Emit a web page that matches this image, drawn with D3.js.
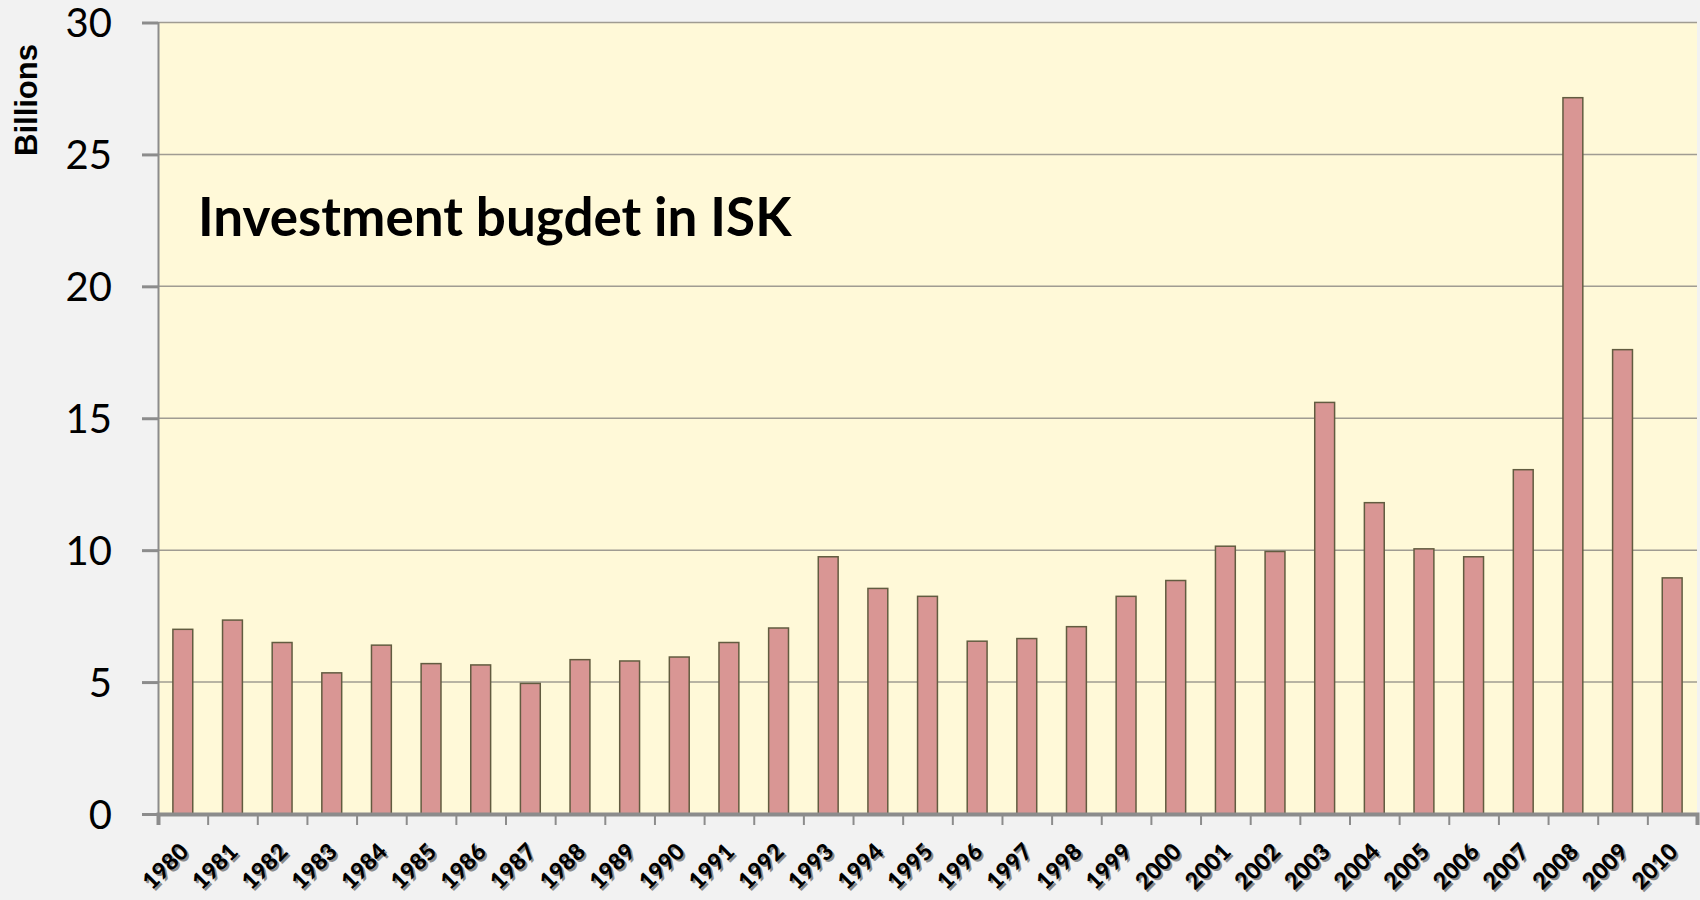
<!DOCTYPE html>
<html>
<head>
<meta charset="utf-8">
<script src="https://cdn.jsdelivr.net/npm/d3@7"></script>
<style>
    html, body { margin: 0; padding: 0; background: #f2f2f2; }
    .chart_box { width: 1700px; height: 900px; }
</style>
</head>
<body>
<div class="chart_box"></div>
<script>
//<data>-------------------------------------//
var years = ["1980", "1981", "1982", "1983", "1984", "1985", "1986", "1987", "1988", "1989",
    "1990", "1991", "1992", "1993", "1994", "1995", "1996", "1997", "1998", "1999",
    "2000", "2001", "2002", "2003", "2004", "2005", "2006", "2007", "2008", "2009", "2010"];
var budget = [7.0, 7.35, 6.5, 5.35, 6.4, 5.7, 5.65, 4.95, 5.85, 5.8,
    5.95, 6.5, 7.05, 9.75, 8.55, 8.25, 6.55, 6.65, 7.1, 8.25,
    8.85, 10.15, 9.95, 15.6, 11.8, 10.05, 9.75, 13.05, 27.15, 17.6, 8.95];
var yTicks = [0, 5, 10, 15, 20, 25, 30];
var titleText = "Investment bugdet in ISK";
var unitText = "Billions";

//<setMargin>-------------------------------//
var getW = 1700, getH = 900;
var margin = { top: 22.5, right: 3, bottom: 86, left: 158 },
    width = getW - margin.left - margin.right,
    height = getH - margin.top - margin.bottom;

var svg = d3.select(".chart_box").append("svg")
    .attr("width", getW).attr("height", getH);

svg.append("rect").attr("width", getW).attr("height", getH).attr("fill", "#f2f2f2");

var g = svg.append("g").attr("transform", "translate(" + margin.left + "," + margin.top + ")");

//<scales>----------------------------------//
var x = d3.scaleBand().domain(years).range([0, width]).paddingInner(0.6).paddingOuter(0.3);
var xEdge = d3.scaleLinear().domain([0, years.length]).range([0, width]);
var y = d3.scaleLinear().domain([0, 30]).range([height, 0]);

//plot area
g.append("rect").attr("width", width).attr("height", height).attr("fill", "#fff9d8");

//<grid>------------------------------------//
g.append("g").selectAll("line")
    .data(yTicks.filter(function (d) { return d > 0 }))
    .enter().append("line")
    .attr("x1", 0).attr("x2", width)
    .attr("y1", function (d) { return y(d) }).attr("y2", function (d) { return y(d) })
    .attr("stroke", "#a09c92").attr("stroke-width", 1.5);

//<bars>------------------------------------//
g.append("g").selectAll("rect")
    .data(budget)
    .enter().append("rect")
    .attr("x", function (d, i) { return x(years[i]) })
    .attr("y", function (d) { return y(d) })
    .attr("width", x.bandwidth())
    .attr("height", function (d) { return y(0) - y(d) })
    .attr("fill", "#d99694")
    .attr("stroke", "#625c40")
    .attr("stroke-width", 1.5);

//<yAxis>-----------------------------------//
var yAxis = g.append("g")
    .call(d3.axisLeft(y).tickValues(yTicks).tickSize(16).tickPadding(30));
yAxis.select(".domain").attr("stroke", "#8c8c8c").attr("stroke-width", 2);
yAxis.selectAll(".tick line").attr("stroke", "#8c8c8c").attr("stroke-width", 3);
yAxis.selectAll(".tick text")
    .attr("fill", "#000")
    .attr("dy", "0.36em")
    .style("font-family", "Lato, 'Open Sans', sans-serif")
    .style("font-size", "40px");

//<xAxis>-----------------------------------//
var xAxis = g.append("g").attr("transform", "translate(0," + height + ")")
    .call(d3.axisBottom(xEdge).tickValues(d3.range(years.length + 1)).tickSize(11).tickFormat(""));
xAxis.select(".domain").attr("stroke", "#8c8c8c").attr("stroke-width", 4);
xAxis.selectAll(".tick line").attr("stroke", "#8c8c8c").attr("stroke-width", 2);

var labels = g.append("g").attr("transform", "translate(0," + height + ")");
var drawLabels = function (dx, dy, color) {
    labels.append("g").selectAll("text")
        .data(years)
        .enter().append("text")
        .text(function (d) { return d })
        .attr("transform", function (d) {
            return "translate(" + (x(d) + x.bandwidth() / 2 + 7 + dx) + "," + (39 + dy) + ") rotate(-45)";
        })
        .style("text-anchor", "end")
        .style("font-family", "Lato, 'Open Sans', sans-serif")
        .style("font-weight", "900")
        .style("font-size", "23px")
        .attr("fill", color);
};
drawLabels(2, 2, "#8a8a8a");
drawLabels(0, 0, "#000");

//<title>-----------------------------------//
g.append("text")
    .text(titleText)
    .attr("x", 40).attr("y", 236 - margin.top)
    .style("font-family", "Lato, 'Open Sans', sans-serif")
    .style("font-weight", "bold")
    .style("font-size", "53px")
    .attr("fill", "#000");

//unit label
svg.append("text")
    .text(unitText)
    .attr("transform", "translate(37,100) rotate(-90)")
    .style("text-anchor", "middle")
    .style("font-family", "'Liberation Sans', Arial, sans-serif")
    .style("font-weight", "bold")
    .style("font-size", "31px")
    .attr("fill", "#000");
</script>
</body>
</html>
